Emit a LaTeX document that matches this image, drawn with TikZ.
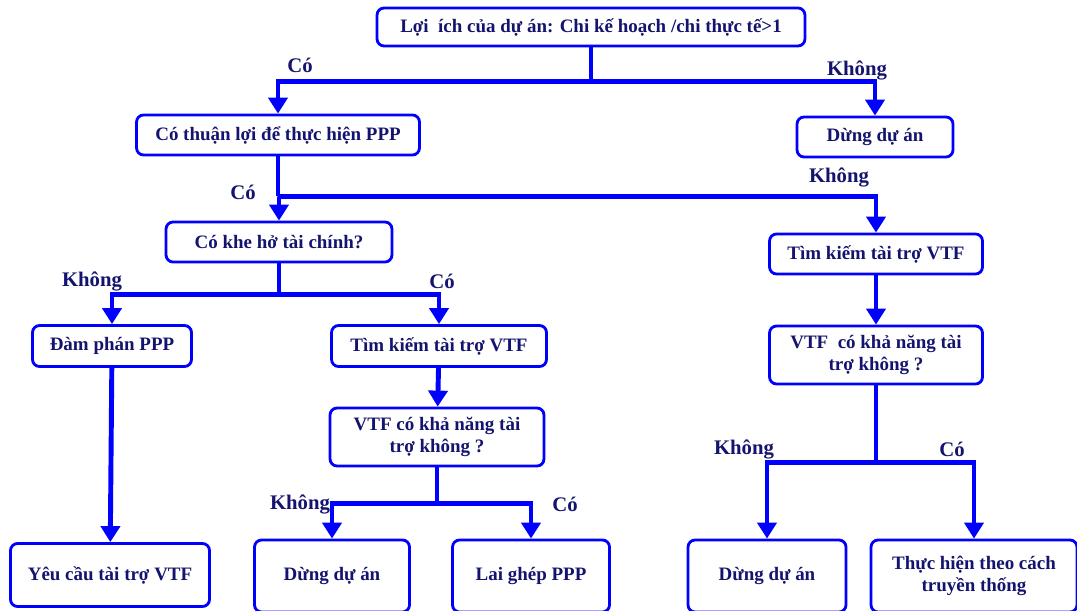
\documentclass[tikz,border=0pt]{standalone}
\usepackage{fontspec}
\setmainfont{Liberation Serif}
\usetikzlibrary{arrows.meta,positioning,calc}
\definecolor{lineblue}{RGB}{0,0,255}
\definecolor{textnavy}{RGB}{20,20,110}

\begin{document}
\begin{tikzpicture}[
      x=0.02cm, y=-0.02cm,
      font=\fontsize{10.8}{12.6}\selectfont\bfseries,
      box/.style={draw=lineblue, line width=1.6pt, rounded corners=4pt, align=center, text=textnavy, inner sep=2pt},
      link/.style={draw=lineblue, line width=2.8pt},
      arrow/.style={link, -{Triangle[width=0.38cm,length=0.32cm]}},
      lbl/.style={font=\fontsize{11.8}{13}\selectfont\bfseries, text=textnavy}
    ]
    \useasboundingbox (0,0) rectangle (1077,611);

    % Level 1
    \node[box, minimum width=8.56cm, minimum height=0.76cm] (loiich) at (591,27) {Lợi\ \ ích của dự án: Chi kế hoạch /chi thực tế>1};
    \node[box, minimum width=5.66cm, minimum height=0.8cm] (thuanloi) at (278,135) {Có thuận lợi để thực hiện PPP};
    \node[box, minimum width=3.12cm, minimum height=0.8cm] (dung1) at (875,137) {Dừng dự án};

    \coordinate (j1) at ($(loiich.south)+(0,34)$);
    \draw[link] (loiich.south) -- (j1);
    \draw[arrow] (j1) -| (thuanloi.north);
    \draw[arrow] (j1) -| (dung1.north);
    \node[lbl] (co1) at (300,65) {Có};
    \node[lbl] (khong1) at (857,70) {Không};

    % Level 2
    \node[box, minimum width=4.52cm, minimum height=0.8cm] (khehoo) at (279,242) {Có khe hở tài chính?};
    \node[box, minimum width=4.26cm, minimum height=0.8cm] (timR) at (876,254) {Tìm kiếm tài trợ VTF};

    \coordinate (j2) at ($(thuanloi.south)+(0,40)$);
    \draw[link] (thuanloi.south) -- (j2);
    \draw[arrow] (j2) -| (khehoo.north);
    \draw[arrow] (j2) -| (timR.north);
    \node[lbl] (co2) at (243,192) {Có};
    \node[lbl] (khong2) at (839,177) {Không};

    % Level 3
    \node[box, minimum width=3.18cm, minimum height=0.82cm] (damphan) at (112,346) {Đàm phán PPP};
    \node[box, minimum width=4.3cm, minimum height=0.82cm] (timM) at (439,346) {Tìm kiếm tài trợ VTF};
    \node[box, minimum width=4.26cm, minimum height=1.16cm] (khanangR) at (876,355) {VTF\ \ có khả năng tài\\trợ không ?};

    \coordinate (j3) at ($(khehoo.south)+(0,31)$);
    \draw[link] (khehoo.south) -- (j3);
    \draw[arrow] (j3) -| (damphan.north);
    \draw[arrow] (j3) -| (timM.north);
    \draw[arrow] (timR) -- (khanangR);
    \node[lbl] (khong3) at (92,281) {Không};
    \node[lbl] (co3) at (442,281) {Có};

    % Level 4
    \node[box, minimum width=4.28cm, minimum height=1.16cm] (khanangM) at (437,437) {VTF có khả năng tài\\trợ không ?};
    \node[box, minimum width=3.98cm, minimum height=1.26cm] (yeucau) at (110,575) {Yêu cầu tài trợ VTF};

    \draw[arrow] (timM) -- (khanangM);
    \draw[arrow] (damphan) -- (yeucau);

    % Level 5
    \node[box, minimum width=3.1cm, minimum height=1.44cm] (dung2) at (332,576) {Dừng dự án};
    \node[box, minimum width=3.14cm, minimum height=1.44cm] (laighep) at (531,576) {Lai ghép PPP};
    \node[box, minimum width=3.16cm, minimum height=1.44cm] (dung3) at (767,576) {Dừng dự án};
    \node[box, minimum width=4.12cm, minimum height=1.44cm] (truyenthong) at (974,576) {Thực hiện theo cách\\truyền thống};

    \coordinate (j4) at ($(khanangM.south)+(0,36)$);
    \draw[link] (khanangM.south) -- (j4);
    \draw[arrow] (j4) -| (dung2.north);
    \draw[arrow] (j4) -| (laighep.north);
    \node[lbl] (khong4) at (300,504) {Không};
    \node[lbl] (co4) at (565,504) {Có};

    \coordinate (j5) at ($(khanangR.south)+(0,77)$);
    \draw[link] (khanangR.south) -- (j5);
    \draw[arrow] (j5) -| (dung3.north);
    \draw[arrow] (j5) -| (truyenthong.north);
    \node[lbl] (khong5) at (744,449) {Không};
    \node[lbl] (co5) at (952,449) {Có};
\end{tikzpicture}
\end{document}
